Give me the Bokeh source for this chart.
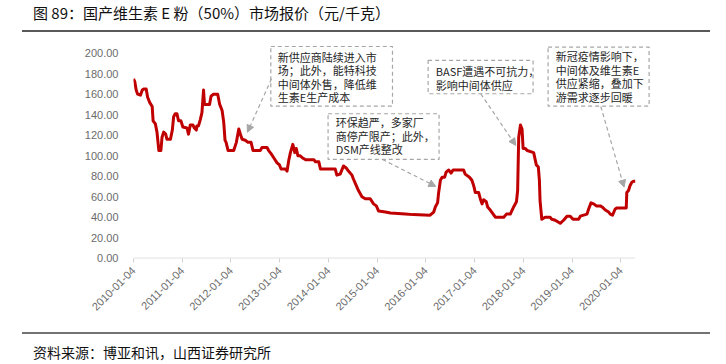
import math
from datetime import datetime, timedelta
import pandas as pd
from bokeh.plotting import figure
from bokeh.layouts import column
from bokeh.models import (Range1d, FixedTicker, NumeralTickFormatter, Arrow, Div,
                          NormalHead, ColumnDataSource)
from bokeh.core.properties import value
from bokeh.embed import file_html
from bokeh.resources import INLINE

# ---------------- data ----------------
dates = [
    "2010-01-04", "2010-01-14", "2010-01-24", "2010-02-04", "2010-02-25", "2010-03-11",
    "2010-03-22", "2010-04-09", "2010-04-20", "2010-05-05", "2010-05-24", "2010-05-31",
    "2010-06-17", "2010-06-29", "2010-07-13", "2010-07-28", "2010-08-06", "2010-08-18",
    "2010-09-02", "2010-09-12", "2010-10-08", "2010-10-22", "2010-11-01", "2010-11-13",
    "2010-11-25", "2010-12-08", "2010-12-25", "2011-01-09", "2011-02-09", "2011-02-20",
    "2011-03-06", "2011-03-25", "2011-04-05", "2011-04-20", "2011-04-24", "2011-05-06",
    "2011-05-19", "2011-06-01", "2011-06-13", "2011-06-20", "2011-07-28", "2011-08-08",
    "2011-08-27", "2011-09-27", "2011-10-12", "2011-10-30", "2011-11-11", "2011-11-21",
    "2011-11-29", "2011-12-14", "2012-01-25", "2012-02-14", "2012-03-03", "2012-03-15",
    "2012-03-28", "2012-04-21", "2012-05-11", "2012-06-03", "2012-06-18", "2012-08-11",
    "2012-08-24", "2012-10-01", "2012-10-13", "2012-10-31", "2012-11-20", "2012-12-15",
    "2013-01-02", "2013-01-14", "2013-02-16", "2013-02-28", "2013-03-12", "2013-03-25",
    "2013-04-12", "2013-04-27", "2013-05-08", "2013-05-20", "2013-06-04", "2013-06-22",
    "2013-07-17", "2013-09-17", "2013-09-29", "2013-10-24", "2013-11-05", "2014-02-24",
    "2014-03-08", "2014-04-02", "2014-04-27", "2014-05-17", "2014-06-03", "2014-06-29",
    "2014-07-11", "2014-07-31", "2014-08-17", "2014-09-12", "2014-10-07", "2014-11-13",
    "2014-12-08", "2014-12-29", "2015-01-15", "2015-03-07", "2015-04-14", "2015-08-03",
    "2015-10-01", "2016-02-05", "2016-03-03", "2016-03-15", "2016-04-01", "2016-04-08",
    "2016-04-22", "2016-05-05", "2016-05-24", "2016-06-04", "2016-06-24", "2016-07-11",
    "2016-07-26", "2016-08-12", "2016-10-13", "2016-10-25", "2016-11-26", "2016-12-14",
    "2016-12-27", "2017-01-09", "2017-02-03", "2017-02-15", "2017-02-28", "2017-03-12",
    "2017-04-01", "2017-04-11", "2017-05-01", "2017-06-08", "2017-08-10", "2017-08-30",
    "2017-09-28", "2017-10-23", "2017-11-13", "2017-11-22", "2017-11-30", "2017-12-13",
    "2017-12-25", "2018-01-02", "2018-01-19", "2018-02-01", "2018-03-22", "2018-04-11",
    "2018-04-26", "2018-05-04", "2018-05-09", "2018-05-22", "2018-06-16", "2018-07-23",
    "2018-08-05", "2018-08-31", "2018-09-12", "2018-10-07", "2018-11-01", "2018-11-27",
    "2018-12-21", "2019-01-11", "2019-02-22", "2019-03-07", "2019-04-26", "2019-05-08",
    "2019-05-26", "2019-06-15", "2019-07-05", "2019-08-04", "2019-08-17", "2019-09-10",
    "2019-10-05", "2019-10-17", "2019-11-03", "2019-11-23", "2019-12-05", "2020-02-14",
    "2020-02-18", "2020-03-02", "2020-03-14", "2020-03-27", "2020-04-09", "2020-04-21",
]
prices = [
    175, 172, 164, 160, 159, 164,
    165, 165, 157, 152, 148, 134,
    131, 123, 105, 105, 118, 123,
    121, 116, 116, 125, 138, 141,
    141, 134, 134, 128, 127, 121,
    130, 130, 127, 125, 129, 129,
    135, 142, 164, 150, 150, 158,
    160, 160, 150, 144, 133, 115,
    113, 105, 105, 113, 126, 121,
    116, 115, 113, 113, 105, 105,
    108, 108, 105, 102, 98, 93,
    91, 87, 87, 85, 95, 103,
    111, 103, 107, 100, 100, 98,
    96, 96, 94, 94, 87, 87,
    81, 82, 90, 88, 85, 81,
    77, 71, 66, 60, 58, 58,
    53, 51, 46, 45, 44, 43,
    42.5, 42, 45, 50, 54, 63,
    76, 79, 79, 84, 86, 83,
    86, 86, 86, 82, 79, 76,
    71, 64, 64, 58, 53, 57,
    55, 50, 47, 40, 40, 43,
    43, 50, 55, 66, 118, 130,
    126, 107, 107, 105, 103, 91,
    89, 76, 56, 38, 40, 40,
    38, 37, 36, 34, 37, 41,
    41, 38, 38, 41, 43, 48,
    54, 53, 51, 51, 50, 47,
    45, 43, 42, 48, 49, 49,
    64, 66, 71, 74, 75, 75,
]
x_tick_labels = ["2010-01-04", "2011-01-04", "2012-01-04", "2013-01-04", "2014-01-04",
                 "2015-01-04", "2016-01-04", "2017-01-04", "2018-01-04", "2019-01-04",
                 "2020-01-04"]
y_ticks = [0, 20, 40, 60, 80, 100, 120, 140, 160, 180, 200]

title_text = "图 89：国产维生素 E 粉（50%）市场报价（元/千克）"
source_text = "资料来源：博亚和讯，山西证券研究所"

note_lines = [
    ["新供应商陆续进入市", "场；此外，能特科技", "中间体外售，降低维", "生素E生产成本"],
    ["环保趋严，多家厂", "商停产限产；此外，", "DSM产线整改"],
    ["BASF遭遇不可抗力，", "影响中间体供应"],
    ["新冠疫情影响下，", "中间体及维生素E", "供应紧缩，叠加下", "游需求逐步回暖"],
]
# annotation placement, in fractional years / price units
note_boxes = [(2012.818, 2015.315, 148.3, 206.5), (2013.993, 2016.271, 96.3, 140.9),
              (2016.046, 2018.200, 160.4, 192.9), (2018.508, 2020.581, 148.3, 205.9)]
note_text_pos = [(2012.961, 196.3), (2014.151, 132.7), (2016.204, 182.4), (2018.666, 196.8)]
note_arrows = [(2012.832, 175.0, 2012.339, 122.9), (2015.110, 96.3, 2016.204, 70.0),
               (2017.127, 160.4, 2017.845, 110.0), (2019.590, 148.0, 2020.068, 69.3)]
line_step = 13.1

# ---------------- helpers ----------------
EPOCH = datetime(1970, 1, 1)
BASE = datetime(2010, 1, 4)


def ms(dt):
    return (dt - EPOCH).total_seconds() * 1000.0


def fy(f):
    return ms(BASE + timedelta(days=(f - 2010.0) * 365.2))


xs = [ms(pd.Timestamp(d).to_pydatetime()) for d in dates]
src = ColumnDataSource(dict(x=xs, y=prices))

GRAY_TXT = "#6b6b6b"
FONT = "Liberation Sans"
CJK = "Noto Sans CJK SC"

p = figure(width=726, height=300, x_axis_type="datetime",
           x_range=Range1d(fy(2010.0), fy(2020.815)),
           y_range=Range1d(-0.3, 210.4),
           output_backend="svg", toolbar_location=None,
           min_border_left=133, min_border_right=66,
           min_border_top=10, min_border_bottom=74, margin=0)
p.outline_line_color = None
p.xgrid.visible = False
p.ygrid.visible = False
p.background_fill_color = "white"

# y axis
yax = p.yaxis[0]
yax.ticker = FixedTicker(ticks=y_ticks)
yax.formatter = NumeralTickFormatter(format="0.00")
yax.axis_line_color = None
yax.major_tick_line_color = None
yax.minor_tick_line_color = None
yax.major_label_text_font = FONT
yax.major_label_text_font_size = "11px"
yax.major_label_text_color = GRAY_TXT
yax.major_label_standoff = 9

# x axis
xtick_vals = [ms(pd.Timestamp(s).to_pydatetime()) for s in x_tick_labels]
xax = p.xaxis[0]
xax.ticker = FixedTicker(ticks=xtick_vals)
xax.major_label_overrides = {v: s for v, s in zip(xtick_vals, x_tick_labels)}
xax.axis_line_color = None
xax.major_tick_line_color = "#d0d0d0"
xax.major_tick_in = 0
xax.major_tick_out = 4
xax.minor_tick_line_color = None
xax.major_label_orientation = math.pi / 4
xax.major_label_text_font = FONT
xax.major_label_text_font_size = "11px"
xax.major_label_text_color = GRAY_TXT
xax.major_label_standoff = 6

# baseline of the category axis (only as long as the data)
p.add_layout(Arrow(end=None, x_start=xs[0], y_start=0, x_end=xs[-1], y_end=0,
                   line_color="#d0d0d0", line_width=1))

# main series
p.line("x", "y", source=src, line_color="#C00000", line_width=3, line_join="round")

# annotation boxes, texts, arrows
BOXC = "#a6a6a6"
for lines, (l, r, b, t), (tx, ty), (x0, y0, x1, y1) in zip(note_lines, note_boxes,
                                                          note_text_pos, note_arrows):
    p.quad(left=[fy(l)], right=[fy(r)], bottom=[b], top=[t], fill_alpha=0,
           line_color=BOXC, line_dash="4 3", line_width=1.2)
    p.text(x=[fy(tx)] * len(lines), y=[ty - i * line_step for i in range(len(lines))],
           text=lines, text_font=value(CJK), text_font_size="11px",
           text_color="#262626", text_baseline="middle", text_align="left")
    p.add_layout(Arrow(x_start=fy(x0), y_start=y0, x_end=fy(x1), y_end=y1,
                       line_color=BOXC, line_dash="4 3", line_width=1.2,
                       end=NormalHead(size=7, fill_color=BOXC, line_color=BOXC)))

# title and source blocks, each with its horizontal rule
title_div = Div(
    text=('<div style="margin-left:22px;width:688px;height:32px;box-sizing:border-box;'
          'border-bottom:2px solid #595959;padding-left:11px;'
          "font-family:'Noto Sans CJK SC';font-size:15px;line-height:26px;color:#111;"
          f'white-space:nowrap;">{title_text}</div>'),
    width=726, height=32, margin=0)
source_div = Div(
    text=('<div style="margin-left:22px;width:688px;height:32px;box-sizing:border-box;'
          'border-top:2px solid #737373;padding-left:11px;padding-top:8px;'
          "font-family:'Noto Sans CJK SC';font-size:14px;line-height:20px;color:#111;"
          f'white-space:nowrap;">{source_text}</div>'),
    width=726, height=32, margin=0)

layout = column(title_div, p, source_div, spacing=0, margin=0)

open("out.html", "w").write(file_html(layout, INLINE))
